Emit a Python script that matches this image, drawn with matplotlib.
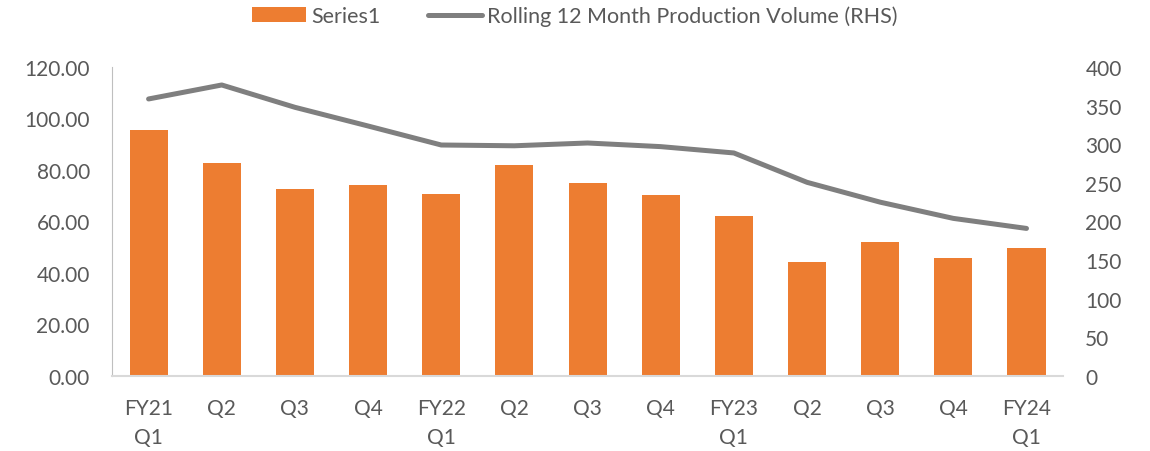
import matplotlib.pyplot as plt
import numpy as np

labels = ['FY21\nQ1', 'Q2', 'Q3', 'Q4', 'FY22\nQ1', 'Q2', 'Q3', 'Q4',
          'FY23\nQ1', 'Q2', 'Q3', 'Q4', 'FY24\nQ1']
series1 = [95.7, 82.6, 72.6, 74.1, 70.5, 82.1, 74.8, 70.2, 62.1, 44.1, 52.0, 45.8, 49.7]
rolling = [358.6, 376.7, 347.8, 323.6, 299.0, 298.0, 301.6, 296.9, 288.7, 250.7, 225.0, 204.0, 191.0]

plt.rcParams['font.family'] = ['Lato', 'DejaVu Sans']
grey = '#595959'

fig = plt.figure(figsize=(11.5, 4.52), dpi=100)
ax = fig.add_axes([0.0974, 0.166, 0.827, 0.6836])
ax2 = ax.twinx()

x = np.arange(len(labels))
bars = ax.bar(x, series1, width=0.52, color='#ED7D31', label='Series1', zorder=2)
ln, = ax2.plot(x, rolling, color='#7F7F7F', lw=3.6, solid_capstyle='round',
               label='Rolling 12 Month Production Volume (RHS)', zorder=3)

ax.set_xlim(-0.5, len(labels) - 0.5)
ax.set_ylim(0, 120)
ax.set_yticks(np.arange(0, 121, 20))
ax.set_yticklabels([f'{v:.2f}' for v in np.arange(0, 121, 20)])
ax2.set_ylim(0, 400)
ax2.set_yticks(np.arange(0, 401, 50))

ax.set_xticks(x)
ax.set_xticklabels(labels, linespacing=1.55, va='top')

for a in (ax, ax2):
    for s in a.spines.values():
        s.set_visible(False)
    a.tick_params(length=0, labelsize=15, colors=grey)
ax.spines['left'].set_visible(True)
ax.spines['left'].set_color('#BFBFBF')
ax.spines['bottom'].set_visible(True)
ax.spines['bottom'].set_color('#D9D9D9')
ax.spines['bottom'].set_linewidth(1.5)
ax.tick_params(axis='x', pad=16)
ax.tick_params(axis='y', pad=16)
ax2.tick_params(axis='y', pad=16)

ax.set_zorder(ax2.get_zorder() - 1)
ax2.patch.set_visible(False)

fig.legend([bars, ln], ['Series1', 'Rolling 12 Month Production Volume (RHS)'],
           loc='center', bbox_to_anchor=(0.5, 0.962), ncol=2, frameon=False,
           fontsize=15.5, labelcolor=grey, handlelength=2.5, handletextpad=0.25,
           columnspacing=2.2)

fig.savefig('out.png', dpi=100)
